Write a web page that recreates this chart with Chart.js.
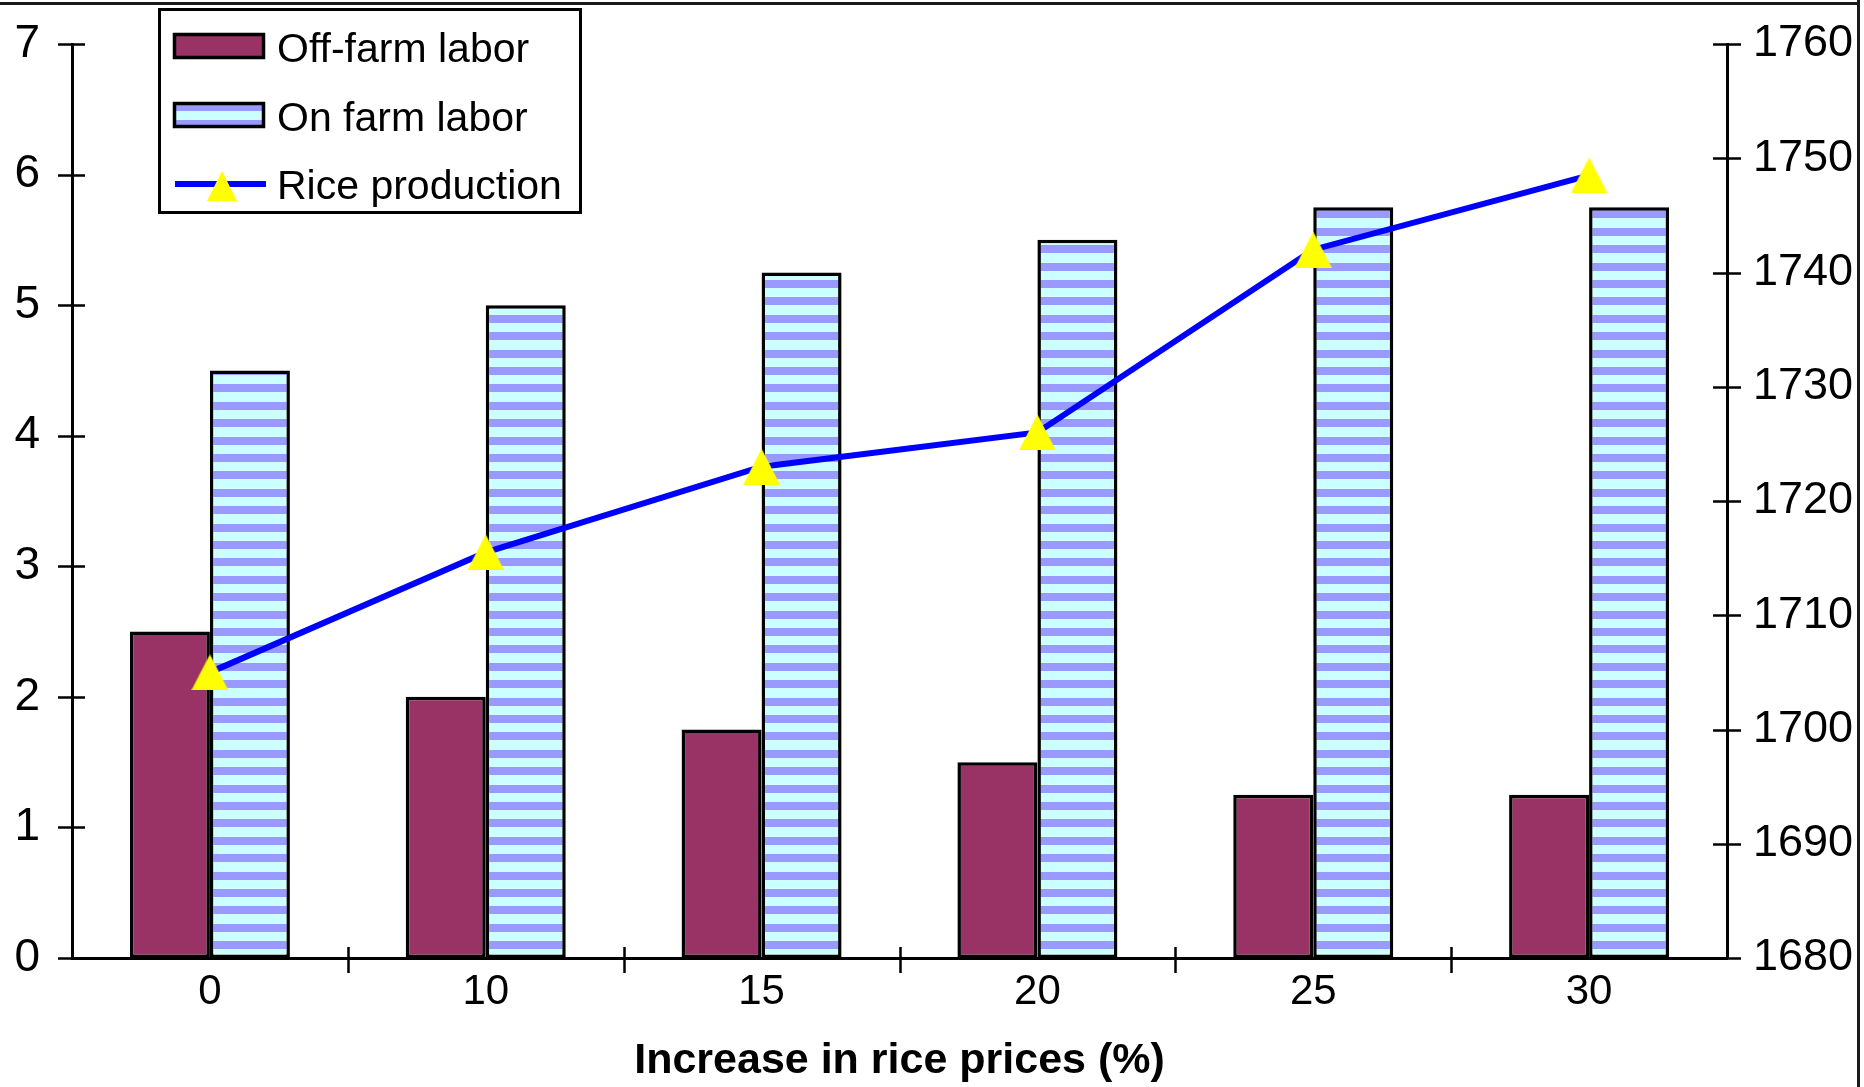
<!DOCTYPE html>
<html>
<head>
<meta charset="utf-8">
<script src="https://cdn.jsdelivr.net/npm/chart.js@4.4.1/dist/chart.umd.min.js"></script>
<style>
  html, body { margin: 0; padding: 0; background: #fff; }
  #wrap { position: relative; width: 1864px; height: 1087px; }
  canvas { display: block; }
</style>
</head>
<body>
<div id="wrap"><canvas id="chart" width="1864" height="1087"></canvas></div>
<script>
// Price scenarios (% increase in rice prices)
const categories = ['0', '10', '15', '20', '25', '30'];
// Labor use (left axis)
const offFarmLabor = [2.5, 2.0, 1.75, 1.5, 1.25, 1.25];
const onFarmLabor = [4.5, 5.0, 5.25, 5.5, 5.75, 5.75];
// Rice output (right axis)
const riceProduction = [1705, 1715.5, 1723, 1726, 1742, 1748.5];
// Axis ranges and steps
const laborTicks = { min: 0, max: 7, step: 1 };
const riceTicks = { min: 1680, max: 1760, step: 10 };
const seriesNames = ['Off-farm labor', 'On farm labor', 'Rice production'];
const xAxisTitle = 'Increase in rice prices (%)';

const FONT = '"Liberation Sans", Arial, sans-serif';
const MAROON = '#993366';
const STRIPE = '#9999FF';
const PALE = '#CCFFFF';
const LINE_BLUE = '#0000FF';
const MARK_YELLOW = '#FFFF00';

const canvas = document.getElementById('chart');
const ctx = canvas.getContext('2d');

// Horizontal stripe fill used for the on-farm bars
function stripePattern() {
  const period = 17.4, band = 8, reps = 10;
  const c = document.createElement('canvas');
  c.width = 8;
  c.height = Math.round(period * reps);
  const g = c.getContext('2d');
  g.fillStyle = PALE;
  g.fillRect(0, 0, c.width, c.height);
  g.fillStyle = STRIPE;
  for (let k = -1; k <= reps; k++) {
    g.fillRect(0, Math.round(1.5 + k * period), c.width, band);
  }
  return ctx.createPattern(c, 'repeat');
}

// Upward triangle marker
function triangleMarker(w, h, color) {
  const c = document.createElement('canvas');
  c.width = w; c.height = h;
  const g = c.getContext('2d');
  g.fillStyle = color;
  g.beginPath();
  g.moveTo(w / 2, 0);
  g.lineTo(w, h);
  g.lineTo(0, h);
  g.closePath();
  g.fill();
  return c;
}

const stripes = stripePattern();
const marker = triangleMarker(37, 36, MARK_YELLOW);
const legendMarker = triangleMarker(30, 30, MARK_YELLOW);

// Tick marks that cross the axis lines, the outer frame and the legend
const axisDecor = {
  id: 'axisDecor',
  afterDatasetsDraw(chart) {
    const { ctx, chartArea: a, scales } = chart;
    ctx.save();
    ctx.strokeStyle = '#000';
    ctx.lineWidth = 2.5;
    ctx.beginPath();
    for (let v = laborTicks.min; v <= laborTicks.max; v += laborTicks.step) {
      const y = Math.round(scales.y.getPixelForValue(v)) + 0.5;
      ctx.moveTo(a.left - 14, y); ctx.lineTo(a.left + 13, y);
    }
    for (let v = riceTicks.min; v <= riceTicks.max; v += riceTicks.step) {
      const y = Math.round(scales.y1.getPixelForValue(v)) + 0.5;
      ctx.moveTo(a.right - 14, y); ctx.lineTo(a.right + 14, y);
    }
    const x = scales.x;
    for (let i = 1; i < categories.length; i++) {
      const px = Math.round((x.getPixelForValue(i - 1) + x.getPixelForValue(i)) / 2) + 0.5;
      ctx.moveTo(px, a.bottom - 11); ctx.lineTo(px, a.bottom + 15);
    }
    ctx.stroke();

    // frame
    ctx.strokeStyle = '#1a1a1a';
    ctx.lineWidth = 3;
    ctx.beginPath();
    ctx.moveTo(0, 3.5); ctx.lineTo(1859, 3.5);
    ctx.moveTo(1858.5, 0); ctx.lineTo(1858.5, 1087);
    ctx.stroke();
    ctx.restore();
  },
  afterDraw(chart) {
    const ctx = chart.ctx;
    const ds = chart.data.datasets;
    ctx.save();
    // legend box
    ctx.fillStyle = '#fff';
    ctx.fillRect(159, 9, 421, 203);
    ctx.strokeStyle = '#000';
    ctx.lineWidth = 3;
    ctx.strokeRect(159.5, 9.5, 421, 203);

    // Off-farm swatch
    ctx.fillStyle = MAROON;
    ctx.fillRect(174, 34, 90, 24);
    ctx.lineWidth = 3.5;
    ctx.strokeRect(174.5, 34.5, 89, 23);

    // On-farm swatch
    ctx.fillStyle = PALE;
    ctx.fillRect(174, 104, 90, 23);
    ctx.fillStyle = STRIPE;
    ctx.fillRect(174, 104, 90, 7);
    ctx.fillRect(174, 120, 90, 6);
    ctx.strokeRect(174.5, 103.5, 89, 23);

    // Rice line swatch
    ctx.strokeStyle = LINE_BLUE;
    ctx.lineWidth = 6;
    ctx.beginPath();
    ctx.moveTo(175, 184); ctx.lineTo(266, 184);
    ctx.stroke();
    ctx.drawImage(legendMarker, 207, 171);

    ctx.fillStyle = '#000';
    ctx.font = '41px ' + FONT;
    ctx.textBaseline = 'alphabetic';
    ctx.textAlign = 'left';
    const labelOf = i => ds.find(d => d.key === i).label;
    ctx.fillText(labelOf(0), 277, 62);
    ctx.fillText(labelOf(1), 277, 131);
    ctx.fillText(labelOf(2), 277, 199);
    ctx.restore();
  }
};

const tickFont = size => ({ family: FONT, size });

new Chart(ctx, {
  type: 'bar',
  data: {
    labels: categories,
    datasets: [
      {
        key: 2,
        type: 'line',
        label: seriesNames[2],
        data: riceProduction,
        yAxisID: 'y1',
        borderColor: LINE_BLUE,
        borderWidth: 6,
        pointStyle: marker,
        pointRadius: 18,
        pointHoverRadius: 18,
        tension: 0,
        fill: false,
        order: 0
      },
      {
        key: 0,
        label: seriesNames[0],
        data: offFarmLabor,
        yAxisID: 'y',
        backgroundColor: MAROON,
        borderColor: '#000',
        borderWidth: 3.5,
        borderSkipped: false,
        order: 1
      },
      {
        key: 1,
        label: seriesNames[1],
        data: onFarmLabor,
        yAxisID: 'y',
        backgroundColor: stripes,
        borderColor: '#000',
        borderWidth: 3.5,
        borderSkipped: false,
        order: 1
      }
    ]
  },
  options: {
    responsive: false,
    animation: false,
    devicePixelRatio: 1,
    layout: { padding: { top: 44, left: 0, right: 0, bottom: 0 } },
    datasets: { bar: { categoryPercentage: 0.58, barPercentage: 1.0 } },
    plugins: { legend: { display: false }, tooltip: { enabled: false } },
    scales: {
      x: {
        type: 'category',
        offset: true,
        grid: { display: false, offset: true },
        border: { display: true, color: '#000', width: 3 },
        ticks: { font: tickFont(42), color: '#000', padding: 1, maxRotation: 0, autoSkip: false },
        title: {
          display: true,
          text: xAxisTitle,
          color: '#000',
          font: { family: FONT, size: 43, weight: 'bold' },
          padding: 0
        },
        afterFit(s) { s.height = 129; s.paddingLeft = 0; s.paddingRight = 0; }
      },
      y: {
        position: 'left',
        min: laborTicks.min,
        max: laborTicks.max,
        grid: { display: false },
        border: { display: true, color: '#000', width: 3 },
        ticks: { stepSize: laborTicks.step, font: tickFont(46), color: '#000', padding: 24 },
        afterFit(s) { s.width = 72; s.paddingTop = 0; s.paddingBottom = 0; }
      },
      y1: {
        position: 'right',
        min: riceTicks.min,
        max: riceTicks.max,
        grid: { display: false },
        border: { display: true, color: '#000', width: 3 },
        ticks: {
          stepSize: riceTicks.step,
          font: tickFont(45),
          color: '#000',
          padding: 18,
          callback: v => String(v)
        },
        afterFit(s) { s.width = 137; s.paddingTop = 0; s.paddingBottom = 0; }
      }
    }
  },
  plugins: [axisDecor]
});
</script>
</body>
</html>
